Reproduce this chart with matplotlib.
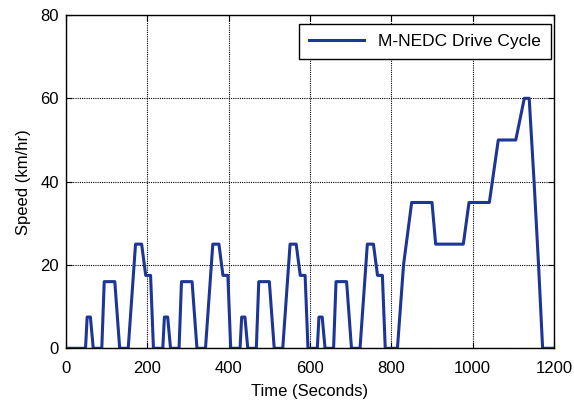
import numpy as np
import matplotlib
matplotlib.use("Agg")
from matplotlib import pyplot as plt

plt.rcParams['font.family'] = ['Liberation Sans', 'DejaVu Sans']

# urban part (4 x ECE-15 at half speed)
urban_t = [0, 48, 52, 60, 67, 88, 94, 120, 132, 153, 171, 186, 196, 208, 215,
           238, 242, 250, 257, 278, 284, 310, 322, 343, 361, 376, 386, 398, 405,
           428, 432, 440, 447, 468, 474, 500, 512, 533, 551, 566, 576, 588, 595,
           618, 622, 630, 637, 658, 664, 690, 702, 723, 741, 756, 766, 778, 785]
urban_v = [0, 0, 7.5, 7.5, 0, 0, 16, 16, 0, 0, 25, 25, 17.5, 17.5, 0,
           0, 7.5, 7.5, 0, 0, 16, 16, 0, 0, 25, 25, 17.5, 17.5, 0,
           0, 7.5, 7.5, 0, 0, 16, 16, 0, 0, 25, 25, 17.5, 17.5, 0,
           0, 7.5, 7.5, 0, 0, 16, 16, 0, 0, 25, 25, 17.5, 17.5, 0]

# extra urban part
eudc_t = [815, 830, 850, 900, 909, 977, 991, 1041, 1063, 1106, 1127, 1139, 1151, 1162, 1172, 1200]
eudc_v = [0, 20, 35, 35, 25, 25, 35, 35, 50, 50, 60, 60, 40, 20, 0, 0]

t = np.array(urban_t + eudc_t)
v = np.array(urban_v + eudc_v)

fig = plt.figure(figsize=(5.74, 4.05), dpi=100)
ax = fig.add_axes([66/574, 1-348.3/405, 488/574, 333.3/405])

ax.plot(t, v, color='#1c3596', lw=2.2, label='M-NEDC Drive Cycle')

ax.set_xlim(0, 1200)
ax.set_ylim(0, 80)
ax.set_xticks(np.arange(0, 1201, 200))
ax.set_yticks(np.arange(0, 81, 20))
ax.grid(True, color='black', linestyle=(0, (1, 1)), linewidth=0.8)
ax.tick_params(direction='in', top=True, right=True, length=4, labelsize=12, width=0.8)
ax.tick_params(axis='x', pad=9)
ax.tick_params(axis='y', pad=5)
for s in ax.spines.values():
    s.set_linewidth(1.0)

ax.set_xlabel('Time (Seconds)', fontsize=12, labelpad=6)
ax.set_ylabel('Speed (km/hr)', fontsize=12, labelpad=7)

leg = ax.legend(loc='upper right', bbox_to_anchor=(550.7/574, 1-24.3/405),
                bbox_transform=fig.transFigure, borderaxespad=0, fontsize=12.5,
                handlelength=3.2, fancybox=False, framealpha=1, borderpad=0.55)
leg.get_frame().set_edgecolor('black')
leg.get_frame().set_linewidth(1.0)

plt.savefig('out.png', dpi=100)
